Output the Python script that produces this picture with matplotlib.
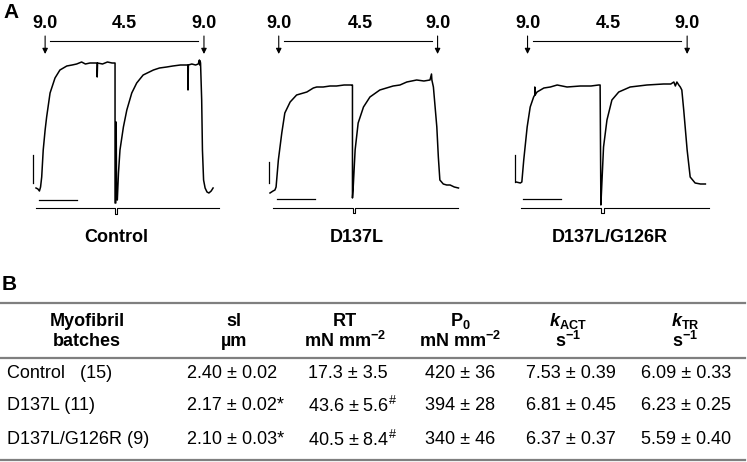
import matplotlib
matplotlib.use('Agg')
import matplotlib.pyplot as plt
from matplotlib.transforms import blended_transform_factory

plt.rcParams['font.family'] = ['Liberation Sans', 'DejaVu Sans']
plt.rcParams['mathtext.fontset'] = 'custom'
plt.rcParams['mathtext.rm'] = 'Liberation Sans'
plt.rcParams['mathtext.bf'] = 'Liberation Sans:bold'
plt.rcParams['mathtext.it'] = 'Liberation Sans:italic:bold'

# ---------------- panel A data: force traces (time in s, force in a.u.)
ctrl_t = [0.00, 0.05, 0.09, 0.12, 0.15, 0.19, 0.24, 0.28, 0.37, 0.50, 0.63, 0.81, 0.95,
          1.07, 1.20, 1.30, 1.42, 1.55, 1.61, 1.61, 1.62, 1.75, 1.88, 2.00, 2.08,
          2.08, 2.10, 2.11, 2.12, 2.14, 2.17, 2.21, 2.30, 2.39, 2.52, 2.65, 2.82, 3.09,
          3.25, 3.44, 3.60, 3.80, 3.97, 4.00, 4.00, 4.01, 4.10, 4.20, 4.27, 4.30, 4.31,
          4.32, 4.33, 4.36, 4.38, 4.41, 4.45, 4.50, 4.55, 4.61, 4.66]
ctrl_f = [1, 0, -2, 2, 12, 39, 59, 72, 96, 111, 119, 123, 124,
          125, 127, 125, 126, 126, 126, 112, 126, 125, 127, 126, 126,
          -14, -14, 67, -10, -11, 16, 39, 62, 79, 96, 106, 114, 119,
          121, 122, 123, 124, 124, 124, 99, 124, 125, 124, 125, 129, 124,
          128, 126, 89, 39, 9, 1, -3, -4, -2, 1]

d137_t = [0.00, 0.08, 0.13, 0.16, 0.22, 0.31, 0.39, 0.53, 0.70, 0.97, 1.14, 1.23, 1.40,
          1.58, 1.75, 1.95, 2.15, 2.17, 2.17, 2.19, 2.24, 2.32, 2.46, 2.63, 2.89, 3.24,
          3.42, 3.60, 3.86, 4.05, 4.21, 4.25, 4.26, 4.30, 4.39, 4.43, 4.47, 4.56, 4.65,
          4.74, 4.85, 4.96]
d137_f = [-1, 1, 2, 5, 32, 59, 79, 90, 97, 100, 104, 105, 105,
          106, 106, 107, 107, 107, -6, 5, 42, 69, 85, 95, 102, 106,
          107, 110, 112, 111, 112, 118, 112, 105, 65, 35, 12, 8, 7,
          7, 5, 4]

dg_t = [0.03, 0.14, 0.18, 0.23, 0.32, 0.40, 0.49, 0.52, 0.52, 0.53, 0.58, 0.76, 0.93,
        1.11, 1.37, 1.72, 2.00, 2.20, 2.24, 2.26, 2.29, 2.33, 2.42, 2.55, 2.73, 3.03,
        3.47, 3.91, 4.10, 4.18, 4.22, 4.26, 4.31, 4.35, 4.39, 4.44, 4.53, 4.61, 4.74,
        4.88, 5.01]
dg_f = [0, -1, 0, 22, 55, 75, 85, 87, 95, 87, 90, 94, 95,
        97, 95, 96, 96, 97, 97, -23, 2, 35, 62, 82, 90, 95,
        97, 98, 98, 100, 96, 100, 97, 95, 92, 72, 32, 5, -1,
        -2, -2]

# length / solution-switch records under each trace
ctrl_len_t = [0.00, 2.07, 2.07, 2.14, 2.14, 4.82]
ctrl_len_f = [-19, -19, -25, -25, -19, -19]
d137_len_t = [0.07, 2.18, 2.18, 2.24, 2.24, 4.96]
d137_len_f = [-16, -16, -21, -21, -16, -16]
dg_len_t = [0.16, 2.27, 2.27, 2.33, 2.33, 5.10]
dg_len_f = [-26, -26, -31, -31, -26, -26]

# pCa switch times (s)
pca_labels = ['9.0', '4.5', '9.0']
ctrl_pca_t = [0.24, 2.32, 4.42]
d137_pca_t = [0.23, 2.37, 4.41]
dg_pca_t = [0.33, 2.45, 4.53]

# calibration bars
time_bar = 1.0            # s
ctrl_force_bar = 28
d137_force_bar = 21
dg_force_bar = 27

trace_names = ['Control', 'D137L', 'D137L/G126R']

# ---------------- panel B data
groups = ['Control', 'D137L', 'D137L/G126R']
n_mf = [15, 11, 9]
sl_mean = [2.40, 2.17, 2.10]
sl_sem = [0.02, 0.02, 0.03]
sl_mark = ['', '*', '*']
rt_mean = [17.3, 43.6, 40.5]
rt_sem = [3.5, 5.6, 8.4]
rt_mark = ['', '#', '#']
p0_mean = [420, 394, 340]
p0_sem = [36, 28, 46]
kact_mean = [7.53, 6.81, 6.37]
kact_sem = [0.39, 0.45, 0.37]
ktr_mean = [6.09, 6.23, 5.59]
ktr_sem = [0.33, 0.25, 0.40]

W, H = 747, 462
fig = plt.figure(figsize=(W / 100, H / 100), dpi=100)

PX_PER_S = 38.0
BOX_BOTTOM = 230


def trace_axes(left, right, x0, ybase):
    ax = fig.add_axes([left / W, 1 - BOX_BOTTOM / H, (right - left) / W, BOX_BOTTOM / H])
    ax.set_xlim((left - x0) / PX_PER_S, (right - x0) / PX_PER_S)
    ax.set_ylim(ybase - BOX_BOTTOM, ybase)
    ax.axis('off')
    return ax


panels = [
    (trace_axes(20, 240, 36, 189), ctrl_t, ctrl_f, ctrl_len_t, ctrl_len_f, ctrl_pca_t,
     ctrl_force_bar, (0.08, -11), (-0.08, 6), 116),
    (trace_axes(255, 480, 270, 192), d137_t, d137_f, d137_len_t, d137_len_f, d137_pca_t,
     d137_force_bar, (0.19, -7), (-0.02, 9), 357),
    (trace_axes(500, 730, 515, 182), dg_t, dg_f, dg_len_t, dg_len_f, dg_pca_t,
     dg_force_bar, (0.21, -17), (0.00, 0), 610),
]

for i, (ax, t, f, lt, lf, pt, fbar, hb, vb, xlab) in enumerate(panels):
    ax.plot(t, f, color='black', lw=1.1, solid_joinstyle='round')
    ax.plot(lt, lf, color='black', lw=0.8)
    # calibration bars
    ax.plot([hb[0], hb[0] + time_bar], [hb[1], hb[1]], color='black', lw=0.9)
    ax.plot([vb[0], vb[0]], [vb[1], vb[1] + fbar], color='black', lw=0.9)
    # pCa labels and arrows
    tr = blended_transform_factory(ax.transData, fig.transFigure)
    for tt, lab in zip(pt, pca_labels):
        ax.text(tt, 1 - 23 / H, lab, transform=tr, ha='center', va='center',
                fontsize=13, fontweight='bold')
    for tt in (pt[0], pt[2]):
        ax.annotate('', xy=(tt, 1 - 54 / H), xytext=(tt, 1 - 36 / H),
                    xycoords=tr, textcoords=tr,
                    arrowprops=dict(arrowstyle='-|>', lw=0.8, color='black',
                                    mutation_scale=8, shrinkA=0, shrinkB=0))
    ax.plot([pt[0] + 0.14, pt[2] - 0.16], [1 - 41 / H, 1 - 41 / H], color='black',
            lw=0.8, transform=tr)
    fig.text(xlab / W, 1 - 238 / H, trace_names[i], ha='center', va='center',
             fontsize=13, fontweight='bold')

# ---------------- table
tab = fig.add_axes([0, 0, 1, 1])
tab.set_xlim(0, W)
tab.set_ylim(H, 0)
tab.axis('off')
tab.patch.set_alpha(0)

fig.text(3 / W, 1 - 13 / H, 'A', fontsize=15, fontweight='bold', va='center')
fig.text(2 / W, 1 - 285 / H, 'B', fontsize=15, fontweight='bold', va='center')

for yy in (302.5, 357.5, 459.5):
    tab.plot([0, 745], [yy, yy], color='#7f7f7f', lw=1.6)

col_x = [87, 234, 345, 460, 568, 685]
head1 = ['Myofibril', 'sl', 'RT', r'P$_{\mathbf{0}}$', r'$k_{\mathbf{ACT}}$', r'$k_{\mathbf{TR}}$']
head2 = ['batches', 'µm', r'mN mm$^{\mathbf{-2}}$', r'mN mm$^{\mathbf{-2}}$',
         r's$^{\mathbf{-1}}$', r's$^{\mathbf{-1}}$']
for x, h1, h2 in zip(col_x, head1, head2):
    tab.text(x, 321, h1, ha='center', va='center', fontsize=13, fontweight='bold')
    tab.text(x, 341, h2, ha='center', va='center', fontsize=13, fontweight='bold')

row_y = [374, 406, 440]
for j, y in enumerate(row_y):
    gap = '   ' if groups[j] == 'Control' else ' '
    tab.text(7, y, f'{groups[j]}{gap}({n_mf[j]})', ha='left', va='center', fontsize=13)
    tab.text(187, y, f'{sl_mean[j]:.2f} ± {sl_sem[j]:.2f}{sl_mark[j]}', ha='left',
             va='center', fontsize=13)
    rt_txt = f'{rt_mean[j]:.1f} ± {rt_sem[j]:.1f}'
    if rt_mark[j]:
        rt_txt += r'$^{\#}$'
    tab.text(308, y, rt_txt, ha='left', va='center', fontsize=13)
    tab.text(460, y, f'{p0_mean[j]} ± {p0_sem[j]}', ha='center', va='center', fontsize=13)
    tab.text(571, y, f'{kact_mean[j]:.2f} ± {kact_sem[j]:.2f}', ha='center', va='center',
             fontsize=13)
    tab.text(686, y, f'{ktr_mean[j]:.2f} ± {ktr_sem[j]:.2f}', ha='center', va='center',
             fontsize=13)

fig.savefig('out.png', dpi=100)
